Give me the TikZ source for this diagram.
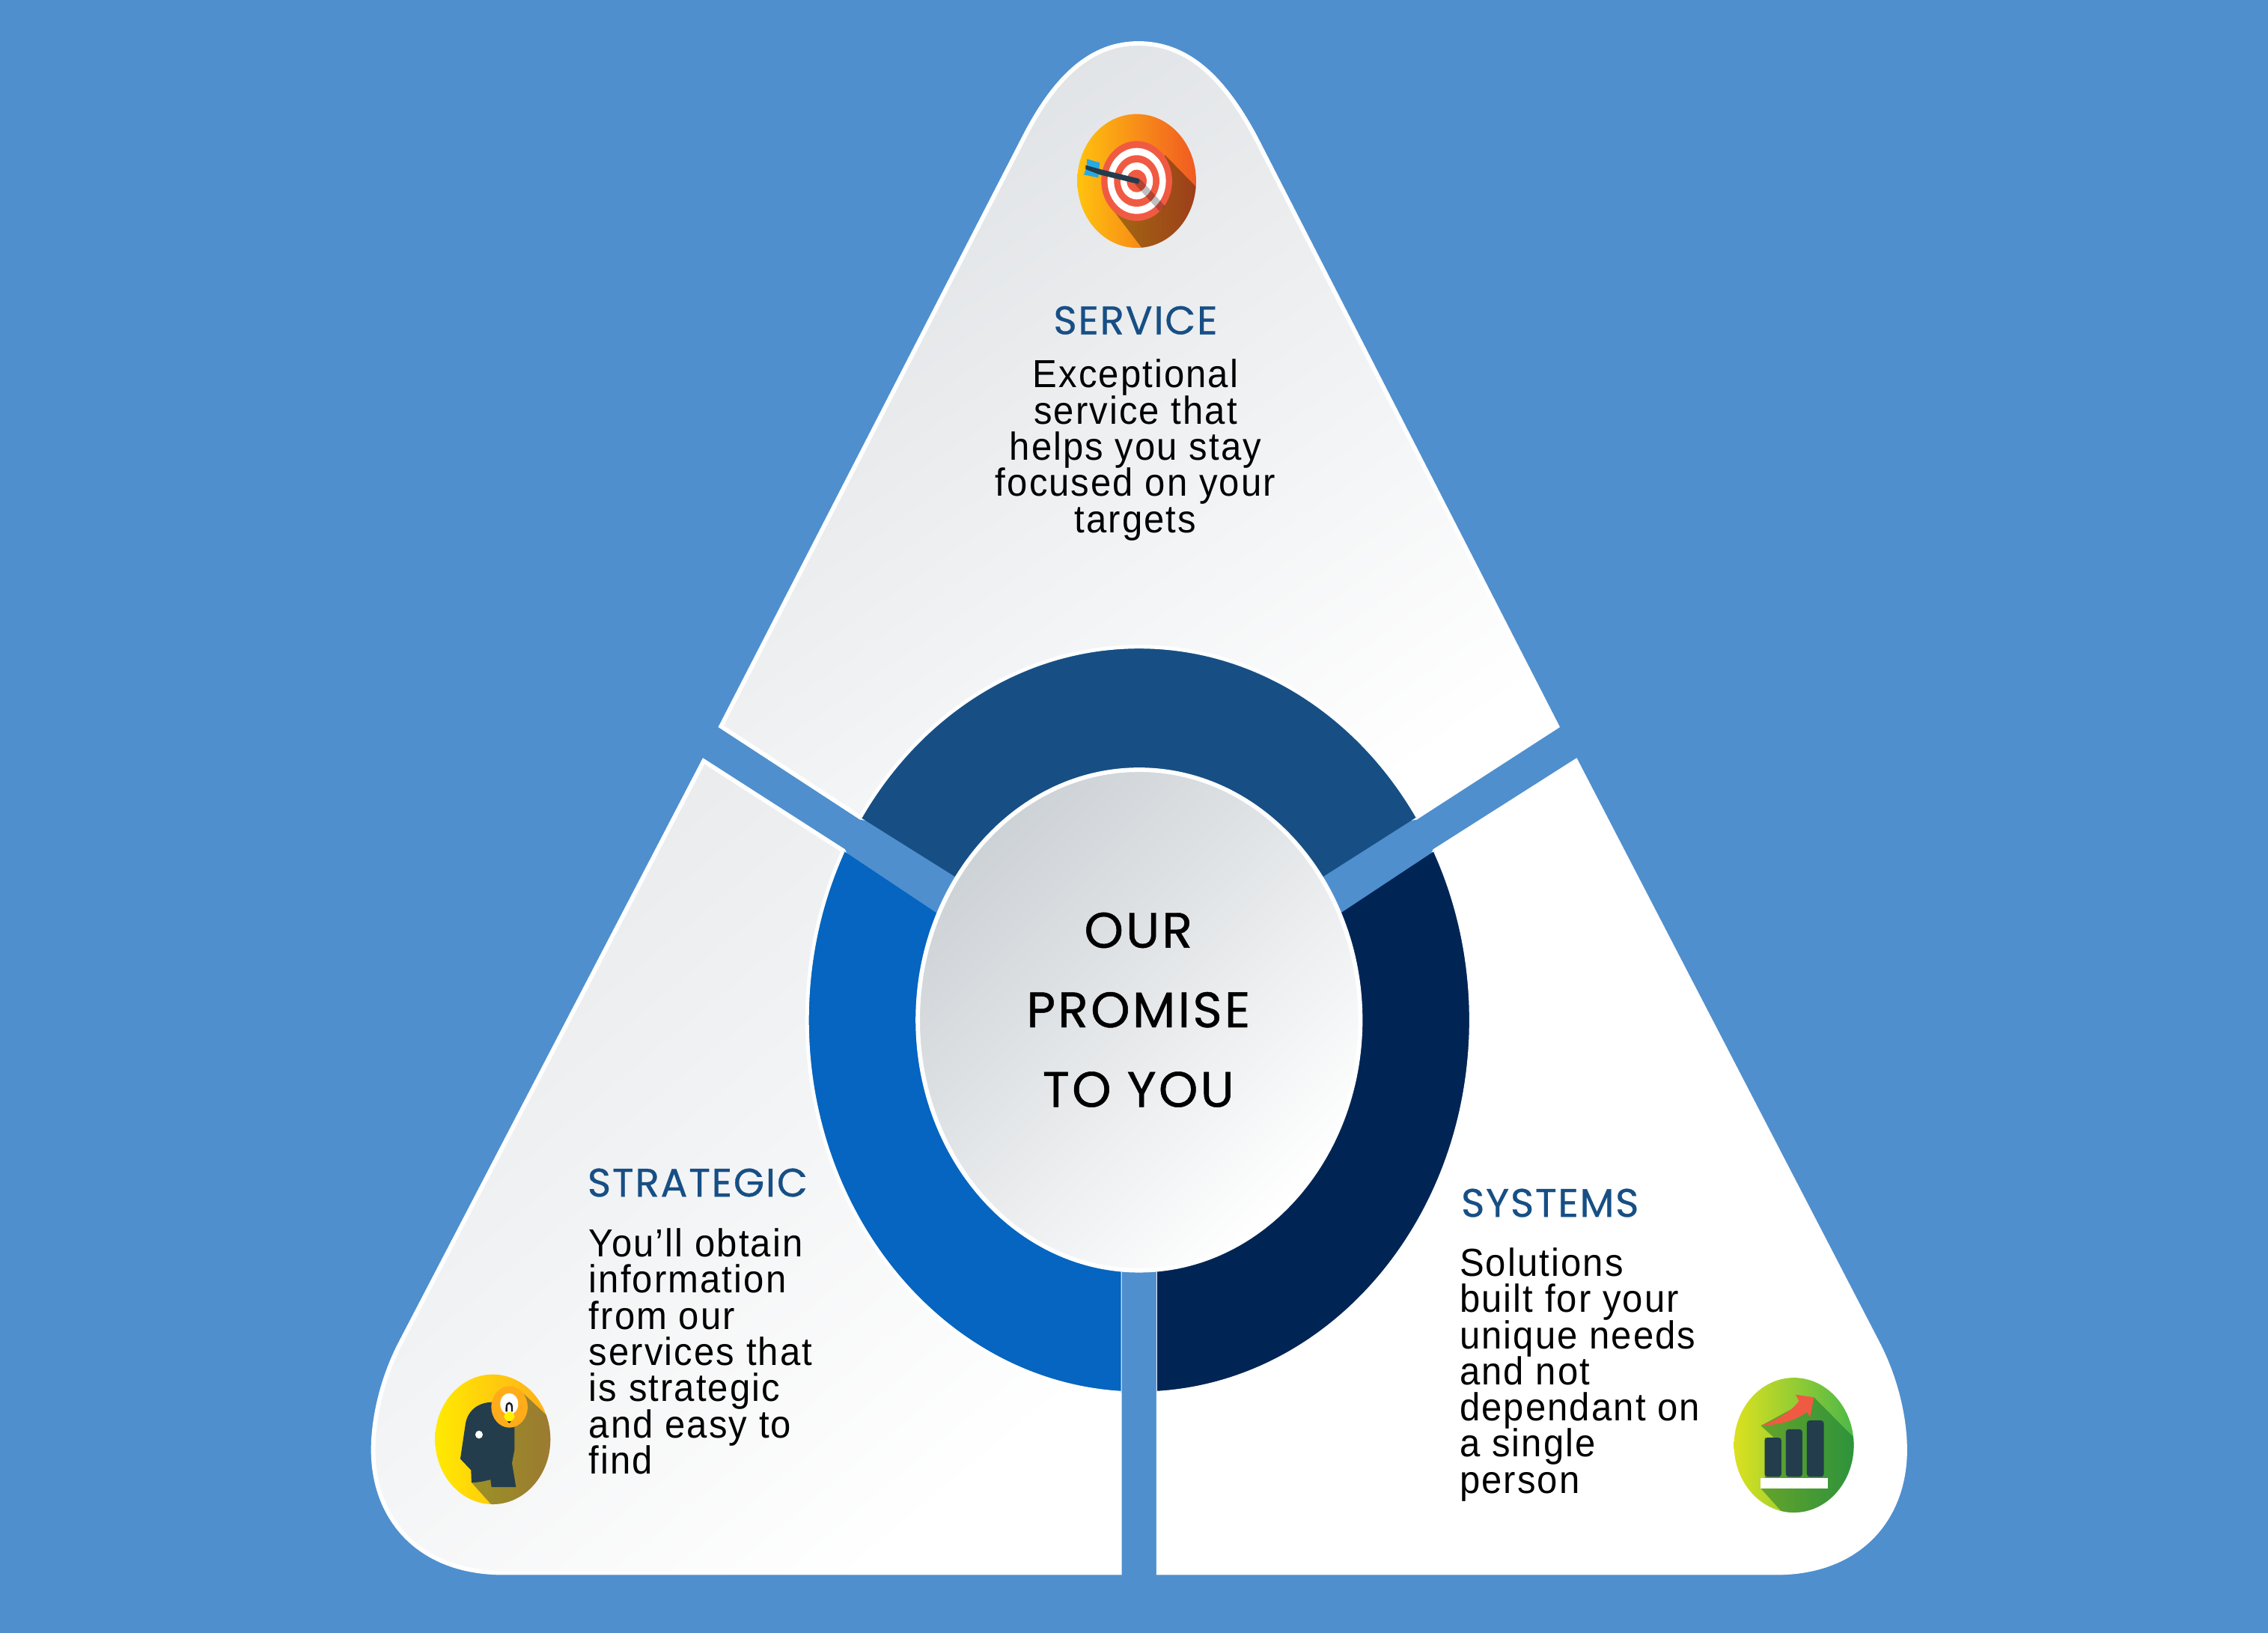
\documentclass[tikz,border=0pt]{standalone}
\usepackage{fontspec}
\setmainfont{Liberation Sans}
\newfontfamily\bodyf[LetterSpace=4,FakeStretch=0.94]{Liberation Sans}
\newfontfamily\headf[LetterSpace=3.4,FakeBold=0.55]{Poppins}
\newfontfamily\cenf[LetterSpace=5,FakeBold=0.7]{Poppins}
\definecolor{bg}{HTML}{4F8FCE}
\definecolor{ringtop}{HTML}{174F85}
\definecolor{ringleft}{HTML}{0565C0}
\definecolor{ringright}{HTML}{002554}
\definecolor{headc}{HTML}{174F85}
\definecolor{navy}{HTML}{233D4D}
\definecolor{coral}{HTML}{F15A42}
\definecolor{paneltop}{HTML}{DFE2E5}
\definecolor{panelleft}{HTML}{E8EAEC}
\definecolor{centrec}{HTML}{CDD2D6}
\definecolor{tgA}{HTML}{FFC20E}
\definecolor{tgB}{HTML}{F15A22}
\definecolor{tgS}{HTML}{2A1A10}
\definecolor{dartblue}{HTML}{27AAE1}
\definecolor{hdA}{HTML}{FFEA00}
\definecolor{hdB}{HTML}{FFAE1A}
\definecolor{bulbc}{HTML}{FFAC1A}
\definecolor{bulbbase}{HTML}{FFF200}
\definecolor{chA}{HTML}{DCE11F}
\definecolor{chB}{HTML}{4DB848}
\definecolor{chS}{HTML}{0F7030}
\newcommand{\leftlines}[1]{\vtop{\lineskiplimit=-100pt\halign{##\hfil\cr #1\crcr}}}
\newcommand{\midlines}[1]{\vtop{\lineskiplimit=-100pt\halign{\hfil##\hfil\cr #1\crcr}}}
\tikzset{
  panel/.style={draw=white,line width=3pt,line join=miter},
  headtext/.style={inner sep=0,text=headc,font=\headf\fontsize{27.5}{30}\selectfont},
  bodytext/.style={inner sep=0,text=black,font=\bodyf\fontsize{27}{25}\selectfont},
  centext/.style={inner sep=0,text=black,font=\cenf\fontsize{34.5}{55}\selectfont},
}
\begin{document}
\begin{tikzpicture}[x=1pt,y=-1pt]
\fill[bg] (0,0) rectangle (1568,1128.6);
\useasboundingbox (0,0) rectangle (1568,1128.6);

% panels
\path[panel,shade,top color=paneltop,bottom color=white,shading angle=35]
  (498.5,502) -- (708,95) .. controls (730,52) and (755,30) .. (787,30)
  .. controls (820,30) and (845,52) .. (868,95) -- (1076.5,502)
  -- (979,565) -- (950,570) -- (787,600) -- (625,570) -- (595,565) -- cycle;
\path[panel,shade,top color=panelleft,bottom color=white,shading angle=40]
  (486.5,526) -- (583,588) -- (600,625) -- (650,700) -- (774,705) -- (774,1087) -- (348,1087)
  .. controls (290,1087) and (258,1050) .. (258,1002)
  .. controls (258,985) and (262,958) .. (276,930) -- cycle;
\path[panel,fill=white]
  (1089.5,526) -- (992,588) -- (975,625) -- (925,700) -- (801,705) -- (801,1087) -- (1228,1087)
  .. controls (1285,1087) and (1317,1050) .. (1317,1002)
  .. controls (1317,985) and (1313,958) .. (1299,930) -- cycle;

% ring
\begin{scope}
  \clip (500,503) -- (500,400) -- (1075,400) -- (1075,503) -- (979,565) -- (914.6,606)
    -- (787,700) -- (660.4,606) -- (595,565) -- cycle;
  \path[fill=ringtop,draw=white,line width=2.5pt] (787.5,705) ellipse [x radius=229.5,y radius=258];
\end{scope}
\begin{scope}
  \clip (518,546) -- (400,546) -- (400,1000) -- (775,1000) -- (775,705) -- (647.5,631) -- (583,588) -- cycle;
  \path[fill=ringleft,draw=white,line width=2.5pt] (787.5,705) ellipse [x radius=229.5,y radius=258];
\end{scope}
\begin{scope}
  \clip (1057,546) -- (1150,546) -- (1150,1000) -- (800,1000) -- (800,705) -- (927,631) -- (992,588) -- cycle;
  \path[fill=ringright,draw=white,line width=2.5pt] (787.5,705) ellipse [x radius=229.5,y radius=258];
\end{scope}
% centre
\path[draw=white,line width=3pt,shade,top color=centrec,bottom color=white,shading angle=45]
  (787.5,705) ellipse [x radius=153,y radius=173];

% target icon
\begin{scope}[shift={(714.1,62.1)},x=0.1725pt,y=-0.1725pt]
  \shade[left color=tgA,right color=tgB] (416,365) ellipse [x radius=238,y radius=268];
  \begin{scope}
    \clip (416,365) ellipse [x radius=238,y radius=268];
    \fill[tgS,fill opacity=0.42] (530,262) -- (900,640) -- (640,900) -- (320,480) -- cycle;
  \end{scope}
  \fill[coral] (416,365) ellipse [x radius=142,y radius=160];
  \fill[white] (416,365) ellipse [x radius=117,y radius=132];
  \fill[coral] (416,365) ellipse [x radius=91,y radius=103];
  \fill[white] (416,365) ellipse [x radius=65,y radius=74];
  \fill[coral] (416,365) ellipse [x radius=40,y radius=45];
  \draw[black,opacity=0.25,line width=5.2pt] (420,368) -- (518,476);
  \fill[dartblue] (217,277) -- (268,292) -- (262,352) -- (204,340) -- (215,312) -- cycle;
  \fill[navy] (211,302) -- (270,318) -- (425,356) .. controls (430,366) .. (420,377) -- (268,340) -- (211,318) -- cycle;
\end{scope}

% head icon
\begin{scope}[shift={(284.6,931.5)},x=0.1725pt,y=-0.1725pt]
  \shade[left color=hdA,right color=hdB] (325,367) ellipse [x radius=231,y radius=260];
  \begin{scope}
    \clip (325,367) ellipse [x radius=231,y radius=260];
    \fill[navy,fill opacity=0.45] (195,445) -- (240,492) -- (240,540) -- (330,640) -- (700,700) -- (700,420) -- (450,185) -- (300,300) -- cycle;
  \end{scope}
  \fill[navy] (195,445) -- (215,310) .. controls (222,255) and (262,220) .. (320,218)
    -- (412,250) -- (412,410) -- (402,462) -- (418,558) -- (320,558) -- (316,528)
    .. controls (290,535) and (265,540) .. (240,540) -- (238,490) -- cycle;
  \fill[white] (270,348) ellipse [x radius=15,y radius=16];
  \fill[bulbc] (392,237) ellipse [x radius=73,y radius=83];
  \fill[white] (391,225) ellipse [x radius=36,y radius=43];
  \fill[bulbbase,rounded corners=4pt] (370,256) rectangle (413,295);
  \fill[black] (383,295) -- (399,295) -- (391,302) -- cycle;
  \draw[black!90,line width=1.2pt] (380,256) -- (380,240) .. controls (380,215) and (402,215) .. (402,240) -- (402,256);
\end{scope}

% chart icon
\begin{scope}[shift={(1185.0,936.7)},x=0.1725pt,y=-0.1725pt]
  \shade[left color=chA,right color=chB] (320,360) ellipse [x radius=240,y radius=270];
  \begin{scope}
    \clip (320,360) ellipse [x radius=240,y radius=270];
    \fill[chS,fill opacity=0.5] (188,282) -- (400,168) -- (700,470) -- (700,800) -- (400,800) -- (270,625) -- (187,533) -- (203,533) -- (203,330) -- (240,330) -- cycle;
  \end{scope}
  \fill[coral] (188,282) .. controls (250,260) and (310,225) .. (341,183) -- (327,158) -- (400,168) -- (385,248) -- (372,227)
     .. controls (330,260) and (260,280) .. (188,282) -- cycle;
  \fill[navy,rounded corners=2pt] (203,487) -- (203,330) -- (270,330) -- (270,487) -- cycle;
  \fill[navy,rounded corners=2pt] (288,487) -- (288,296) -- (354,296) -- (354,487) -- cycle;
  \fill[navy,rounded corners=2pt] (372,487) -- (372,261) -- (440,261) -- (440,487) -- cycle;
  \fill[white] (187,493) rectangle (456,533);
\end{scope}

% text
\node[headtext,anchor=base] (servicehead) at (785,231) {SERVICE};
\node[bodytext,anchor=base] (servicebody) at (785,268) {\midlines{Exceptional\cr service that\cr helps you stay\cr focused on your\cr targets}};
\node[headtext,anchor=base west] (strathead) at (406,827) {STRATEGIC};
\node[bodytext,anchor=base west] (stratbody) at (407,868.6) {\leftlines{You’ll obtain\cr information\cr from our\cr services that\cr is strategic\cr and easy to\cr find}};
\node[headtext,anchor=base west] (syshead) at (1010,841) {SYSTEMS};
\node[bodytext,anchor=base west] (sysbody) at (1009,882) {\leftlines{Solutions\cr built for your\cr unique needs\cr and not\cr dependant on\cr a single\cr person}};
\node[centext,anchor=base] (centre) at (787,655) {\midlines{OUR\cr PROMISE\cr TO YOU}};
\end{tikzpicture}
\end{document}
